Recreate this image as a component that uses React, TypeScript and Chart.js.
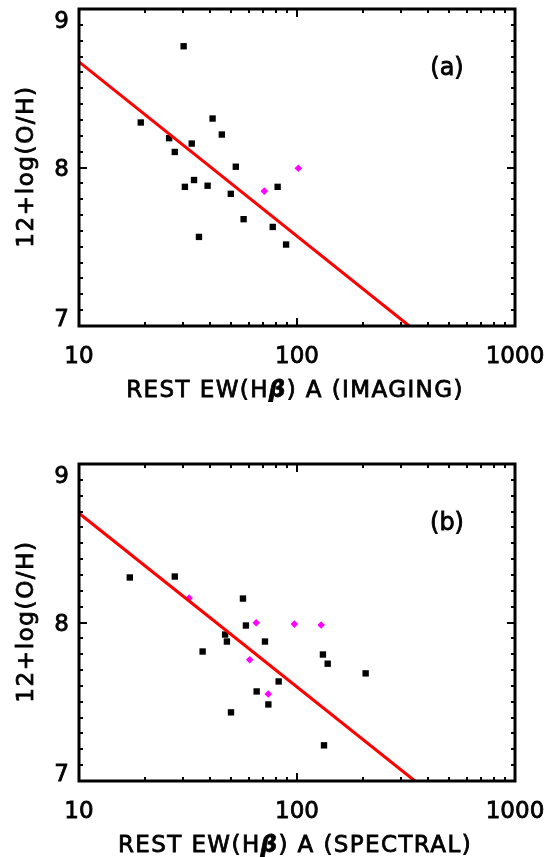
import React, { useEffect, useRef } from "react";
import { Chart, registerables } from "chart.js";

Chart.register(...registerables);

// ---- axis ticks ----
const xMajorTicks = [10, 100, 1000];
const xTickLabels = ["10", "100", "1000"];
const xMinorTicks = [20, 30, 40, 50, 60, 70, 80, 90, 200, 300, 400, 500, 600, 700, 800, 900];
const yMajorTicks = [7, 8, 9];
const yTickLabels = ["7", "8", "9"];
const yMinorTicks = [7.1, 7.2, 7.3, 7.4, 7.5, 7.6, 7.7, 7.8, 7.9, 8.1, 8.2, 8.3, 8.4, 8.5, 8.6, 8.7, 8.8, 8.9];

// ---- panel (a): imaging ----
const imgBlackX = [30.2, 19.2, 25.9, 27.5, 32.9, 41.0, 45.2, 52.4, 30.6, 33.7, 38.9, 49.7, 81.5, 35.5, 56.9, 77.4, 89.1];
const imgBlackY = [8.765, 8.284, 8.185, 8.098, 8.151, 8.309, 8.208, 8.005, 7.878, 7.921, 7.885, 7.834, 7.878, 7.562, 7.674, 7.625, 7.514];
const imgMagentaX = [70.8, 101.4];
const imgMagentaY = [7.851, 7.995];
const imgFitX = [10, 327.5];
const imgFitY = [8.666, 7.0];

// ---- panel (b): spectral ----
const specBlackX = [17.1, 27.5, 56.5, 58.3, 46.8, 47.7, 71.3, 36.9, 65.3, 73.9, 49.8, 131.5, 138.3, 206.5, 82.4, 133.0];
const specBlackY = [8.284, 8.290, 8.151, 7.981, 7.924, 7.880, 7.880, 7.817, 7.565, 7.483, 7.433, 7.798, 7.740, 7.679, 7.628, 7.225];
const specMagentaX = [32.0, 65.0, 97.3, 129.1, 60.7, 73.8];
const specMagentaY = [8.154, 7.998, 7.990, 7.984, 7.765, 7.549];
const specFitX = [10, 347.5];
const specFitY = [8.689, 7.0];

const FONT = '"DejaVu Sans", "Noto Sans", sans-serif';
const THICK = 0.8;

function boldText(ctx: CanvasRenderingContext2D, t: string, x: number, y: number) {
  ctx.fillText(t, x, y);
  ctx.lineWidth = THICK;
  ctx.strokeText(t, x, y);
}

type Seg = { text: string; font: string };

function drawSegments(ctx: CanvasRenderingContext2D, segs: Seg[], cx: number, y: number, spacing: number) {
  (ctx as any).letterSpacing = spacing + "px";
  ctx.textAlign = "left";
  ctx.textBaseline = "alphabetic";
  let total = 0;
  const widths = segs.map((s) => {
    ctx.font = s.font;
    const w = ctx.measureText(s.text).width;
    total += w;
    return w;
  });
  let x = cx - total / 2;
  segs.forEach((s, i) => {
    ctx.font = s.font;
    boldText(ctx, s.text, x, y);
    x += widths[i];
  });
  (ctx as any).letterSpacing = "0px";
}

const idlAxesPlugin = {
  id: "idlAxes",
  afterDraw(chart: any, _args: any, opts: any) {
    const ctx: CanvasRenderingContext2D = chart.ctx;
    const { left, right, top, bottom } = chart.chartArea;
    const xs = chart.scales.x;
    const ys = chart.scales.y;
    ctx.save();
    ctx.strokeStyle = "#000";
    ctx.fillStyle = "#000";
    // ticks
    ctx.lineWidth = 2;
    ctx.beginPath();
    const xt = (v: number, len: number) => {
      const p = Math.round(xs.getPixelForValue(v));
      ctx.moveTo(p, bottom);
      ctx.lineTo(p, bottom - len);
      ctx.moveTo(p, top);
      ctx.lineTo(p, top + len);
    };
    const yt = (v: number, len: number) => {
      const p = Math.round(ys.getPixelForValue(v));
      ctx.moveTo(left, p);
      ctx.lineTo(left + len, p);
      ctx.moveTo(right, p);
      ctx.lineTo(right - len, p);
    };
    xMinorTicks.forEach((v) => xt(v, 4));
    xMajorTicks.forEach((v) => xt(v, 8));
    yMinorTicks.forEach((v) => yt(v, 4));
    yMajorTicks.forEach((v) => yt(v, 8));
    ctx.stroke();
    // frame
    ctx.lineWidth = 3;
    ctx.strokeRect(left, top, right - left, bottom - top);

    // tick labels
    ctx.font = `23px ${FONT}`;
    ctx.textAlign = "center";
    ctx.textBaseline = "alphabetic";
    xMajorTicks.forEach((v, i) => {
      boldText(ctx, xTickLabels[i], xs.getPixelForValue(v), bottom + 37);
    });
    ctx.textAlign = "right";
    const capH = 17;
    yMajorTicks.forEach((v, i) => {
      const p = ys.getPixelForValue(v);
      let base = p + capH / 2;
      if (i === 0) base = p;
      if (i === yMajorTicks.length - 1) base = p + capH + 2;
      boldText(ctx, yTickLabels[i], 69, base);
    });

    // x title
    drawSegments(
      ctx,
      [
        { text: "REST EW(H", font: `23px ${FONT}` },
        { text: "β", font: `italic bold 23px ${FONT}` },
        { text: opts.xTitleEnd, font: `23px ${FONT}` },
      ],
      295,
      bottom + 71,
      1.4
    );

    // y title
    ctx.save();
    ctx.translate(33, (top + bottom) / 2 - 1);
    ctx.rotate(-Math.PI / 2);
    ctx.font = `23px ${FONT}`;
    (ctx as any).letterSpacing = "1.6px";
    ctx.textAlign = "center";
    ctx.textBaseline = "alphabetic";
    boldText(ctx, "12+log(O/H)", 0, 0);
    ctx.restore();

    // panel label
    ctx.font = `24px ${FONT}`;
    ctx.textAlign = "center";
    ctx.textBaseline = "alphabetic";
    boldText(ctx, opts.panelLabel, right - 68, top + 66);
    ctx.restore();
  },
};

function toPts(xs: number[], ys: number[]) {
  return xs.map((x, i) => ({ x, y: ys[i] }));
}

type PanelProps = {
  top: number;
  blackX: number[];
  blackY: number[];
  magX: number[];
  magY: number[];
  fitX: number[];
  fitY: number[];
  panelLabel: string;
  xTitleEnd: string;
};

function Panel(p: PanelProps) {
  const ref = useRef<HTMLCanvasElement>(null);
  useEffect(() => {
    if (!ref.current) return;
    const chart = new Chart(ref.current, {
      type: "scatter",
      data: {
        datasets: [
          {
            label: "fit",
            data: toPts(p.fitX, p.fitY),
            showLine: true,
            borderColor: "#ff0000",
            borderWidth: 3,
            pointRadius: 0,
            fill: false,
          },
          {
            label: "black",
            data: toPts(p.blackX, p.blackY),
            pointStyle: "rect",
            pointRadius: 4.5,
            backgroundColor: "#000000",
            borderWidth: 0,
          },
          {
            label: "magenta",
            data: toPts(p.magX, p.magY),
            pointStyle: "rectRot",
            pointRadius: 3.8,
            backgroundColor: "#ff00ff",
            borderWidth: 0,
          },
        ],
      },
      options: {
        responsive: false,
        animation: false,
        devicePixelRatio: 1,
        layout: { padding: { left: 79, right: 35, top: 9, bottom: 76 } },
        scales: {
          x: { type: "logarithmic", min: 10, max: 1000, display: false },
          y: { type: "linear", min: 7, max: 9, display: false },
        },
        plugins: {
          legend: { display: false },
          tooltip: { enabled: false },
          idlAxes: { panelLabel: p.panelLabel, xTitleEnd: p.xTitleEnd },
        } as any,
      },
      plugins: [idlAxesPlugin],
    });
    return () => chart.destroy();
  }, []);
  return (
    <canvas
      ref={ref}
      width={550}
      height={402}
      style={{ position: "absolute", left: 0, top: p.top, width: 550, height: 402 }}
    />
  );
}

export default function App() {
  return (
    <div style={{ position: "absolute", left: 0, top: 0, width: 550, height: 857, background: "#fff", overflow: "hidden" }}>
      <Panel
        top={0}
        blackX={imgBlackX}
        blackY={imgBlackY}
        magX={imgMagentaX}
        magY={imgMagentaY}
        fitX={imgFitX}
        fitY={imgFitY}
        panelLabel="(a)"
        xTitleEnd=") A (IMAGING)"
      />
      <Panel
        top={455}
        blackX={specBlackX}
        blackY={specBlackY}
        magX={specMagentaX}
        magY={specMagentaY}
        fitX={specFitX}
        fitY={specFitY}
        panelLabel="(b)"
        xTitleEnd=") A (SPECTRAL)"
      />
    </div>
  );
}
